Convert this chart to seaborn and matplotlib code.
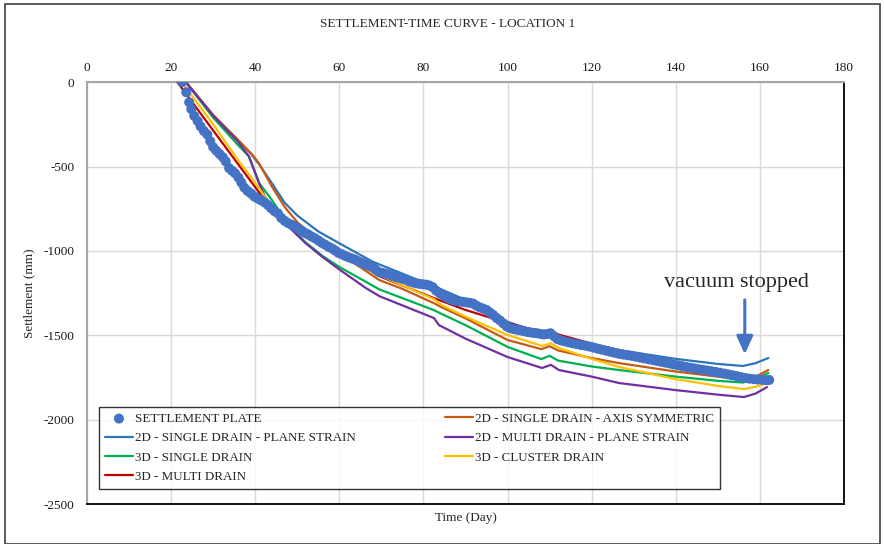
import numpy as np
import pandas as pd
import matplotlib
matplotlib.use("Agg")
import matplotlib.pyplot as plt
import seaborn as sns
from matplotlib.patches import Rectangle

# settlement plate readings (day, mm)
plate_day = [22.6, 23.6, 24.3, 24.8, 25.5, 26.3, 27.0, 27.8, 28.6, 29.3, 30.0, 30.7, 31.5, 32.3, 33.0,
             33.8, 34.5, 35.2, 36.0, 36.7, 37.4, 38.2, 39.0, 39.8, 40.6, 41.4, 42.2, 43.0, 43.8, 44.6,
             45.4, 46.2, 47.0, 47.8, 48.6, 49.4, 50.2, 51.0, 51.8, 52.6, 53.4, 54.2, 55.0, 55.8, 56.6,
             57.4, 58.2, 59.0, 59.8, 60.6, 61.4, 62.2, 63.0, 63.8, 64.6, 65.4, 66.2, 67.0, 67.8, 68.6,
             69.4, 70.2, 71.0, 71.8, 72.6, 73.4, 74.2, 75.0, 75.8, 76.6, 77.4, 78.2, 79.0, 79.8, 80.6,
             81.4, 82.2, 83.0, 83.8, 84.6, 85.4, 86.2, 87.0, 87.8, 88.6, 89.4, 90.2, 91.0, 91.8, 92.6,
             93.4, 94.2, 95.0, 95.8, 96.6, 97.4, 98.2, 99.0, 99.8, 100.6, 101.4, 102.2, 103.0, 103.8,
             104.6, 105.4, 106.2, 107.0, 107.8, 108.6, 109.4, 110.2, 111.0, 111.8, 112.6, 113.5, 114.5,
             115.5, 116.5, 117.5, 118.5, 119.5, 120.5, 121.5, 122.5, 123.5, 124.5, 125.5, 126.5, 127.5,
             128.5, 129.5, 130.5, 131.5, 132.5, 133.5, 134.5, 135.5, 136.5, 137.5, 138.5, 139.5, 140.5,
             141.5, 142.5, 143.5, 144.5, 145.5, 146.5, 147.5, 148.5, 149.5, 150.5, 151.5, 152.5, 153.5,
             154.5, 155.5, 156.5, 157.5, 158.5, 159.5, 160.5, 161.5, 162.2]
plate_mm = [0, -60, -120, -160, -200, -230, -262, -290, -310, -350, -385, -405, -425, -445, -470,
            -510, -525, -540, -565, -595, -625, -645, -660, -678, -690, -700, -712, -728, -748, -765,
            -778, -805, -822, -835, -845, -855, -868, -880, -893, -903, -915, -925, -938, -952, -963,
            -975, -985, -998, -1012, -1020, -1030, -1038, -1045, -1052, -1062, -1070, -1080, -1088, -1096, -1110,
            -1125, -1130, -1135, -1140, -1148, -1155, -1160, -1165, -1170, -1180, -1186, -1192, -1195, -1198, -1200,
            -1205, -1215, -1235, -1250, -1262, -1275, -1285, -1292, -1297, -1300, -1302, -1305, -1308, -1312, -1325,
            -1335, -1342, -1350, -1365, -1380, -1398, -1412, -1430, -1448, -1458, -1463, -1467, -1470, -1475,
            -1480, -1483, -1486, -1488, -1492, -1495, -1493, -1488, -1505, -1522, -1530, -1536, -1542,
            -1548, -1553, -1558, -1562, -1567, -1573, -1580, -1586, -1592, -1598, -1604, -1610, -1614,
            -1618, -1622, -1627, -1632, -1637, -1642, -1647, -1652, -1657, -1662, -1667, -1673, -1678,
            -1683, -1688, -1692, -1697, -1701, -1705, -1709, -1713, -1717, -1722, -1727, -1732, -1737,
            -1742, -1748, -1753, -1757, -1760, -1762, -1764, -1766, -1765]

ps2d_day = [23.5, 30, 36, 39, 41, 44, 47, 50, 55, 60, 68, 75, 83, 90, 100, 108, 110, 112, 120, 127, 140, 150,
            156, 159, 162]
ps2d_mm = [0, -195, -345, -425, -490, -600, -715, -790, -885, -955, -1065, -1135, -1215, -1290, -1420, -1490,
           -1478, -1505, -1550, -1590, -1640, -1670, -1682, -1665, -1635]

ax2d_day = [23.5, 30, 36, 39.5, 41, 44, 47, 50, 55, 60, 69.5, 75, 82.5, 84, 90, 100, 108, 110, 112, 120,
            126.5, 140, 150, 156, 159, 162]
ax2d_mm = [0, -195, -345, -435, -485, -620, -740, -830, -935, -1013, -1173, -1225, -1310, -1330, -1400, -1528,
           -1582, -1565, -1590, -1635, -1665, -1715, -1745, -1765, -1745, -1706]

multi2d_day = [23.5, 30, 36, 38.5, 40.9, 42.5, 45, 48, 52, 56, 60, 66.3, 69.5, 82.5, 83.7, 90, 100, 108.2,
               110.3, 112.2, 120, 126.5, 140, 150, 156.2, 159, 161.7]
multi2d_mm = [0, -200, -355, -440, -600, -690, -790, -858, -955, -1036, -1110, -1220, -1268, -1398, -1440,
              -1520, -1629, -1694, -1675, -1706, -1745, -1783, -1825, -1852, -1866, -1845, -1807]

single3d_day = [23.5, 30, 36, 38.5, 41, 44, 48, 52, 56, 60, 69.5, 82.5, 84, 90, 100, 108, 110, 112, 120,
                126.5, 140, 150, 156, 159, 162]
single3d_mm = [0, -210, -375, -440, -600, -700, -850, -950, -1030, -1095, -1228, -1351, -1370, -1440, -1569,
               -1641, -1622, -1650, -1685, -1706, -1745, -1770, -1780, -1760, -1723]

cluster3d_day = [22.5, 30, 36, 40.9, 44, 48, 52, 56, 60, 69.5, 82.5, 84.3, 90, 100, 108.2, 110.3, 112.2, 120,
                 126.5, 140, 150, 156.2, 159, 161.7]
cluster3d_mm = [0, -250, -465, -628, -740, -840, -910, -970, -1020, -1143, -1286, -1321, -1390, -1498, -1563,
                -1548, -1575, -1640, -1688, -1760, -1800, -1819, -1805, -1783]

multi3d_day = [21.5, 41.4, 44, 48, 52, 60, 69.5, 82.5, 90, 100, 108.2, 110, 112, 120, 130, 140, 150, 156, 162]
multi3d_mm = [0, -670, -760, -850, -900, -1000, -1150, -1280, -1350, -1427, -1480, -1478, -1495, -1550, -1610,
              -1665, -1715, -1745, -1765]

x_ticks = [0, 20, 40, 60, 80, 100, 120, 140, 160, 180]
y_ticks = [0, -500, -1000, -1500, -2000, -2500]

SERIF = ["Liberation Serif", "DejaVu Serif"]


def main():
    sns.set_style("white")
    plt.rcParams["font.family"] = SERIF
    plt.rcParams["axes.unicode_minus"] = False

    fig = plt.figure(figsize=(8.84, 5.44), dpi=100)
    ax = fig.add_axes([0.0984, 0.0735, 0.8564, 0.7755])

    ax.grid(True, color="#d9d9d9", linewidth=1.0)
    ax.set_axisbelow(True)

    lines = [
        (ps2d_day, ps2d_mm, "#2E75B6", "2D - SINGLE DRAIN - PLANE STRAIN"),
        (single3d_day, single3d_mm, "#00B050", "3D - SINGLE DRAIN"),
        (multi3d_day, multi3d_mm, "#C00000", "3D - MULTI DRAIN"),
        (ax2d_day, ax2d_mm, "#C55A11", "2D - SINGLE DRAIN - AXIS SYMMETRIC"),
        (multi2d_day, multi2d_mm, "#7030A0", "2D - MULTI DRAIN - PLANE STRAIN"),
        (cluster3d_day, cluster3d_mm, "#FFC000", "3D - CLUSTER DRAIN"),
    ]
    for xs, ys, col, lab in lines:
        sns.lineplot(x=xs, y=ys, color=col, linewidth=1.6, sort=False, estimator=None,
                     label=lab, ax=ax, zorder=3)

    sns.scatterplot(x=plate_day, y=plate_mm, color="#4472C4", s=52, edgecolor="none",
                    label="SETTLEMENT PLATE", ax=ax, zorder=4)

    ax.set_xlim(0, 180)
    ax.set_ylim(-2500, 0)
    ax.set_xticks(x_ticks)
    ax.set_yticks(y_ticks)
    ax.xaxis.tick_top()
    ax.tick_params(axis="both", length=0, labelsize=9.5, pad=6, colors="#1a1a1a")
    ax.tick_params(axis="y", pad=9)

    for side in ["top", "left"]:
        ax.spines[side].set_color("#a6a6a6")
        ax.spines[side].set_linewidth(1.5)
    for side in ["bottom", "right"]:
        ax.spines[side].set_color("black")
        ax.spines[side].set_linewidth(1.3)

    ax.set_xlabel("Time (Day)", fontsize=9.5, labelpad=6)
    ax.set_ylabel("Settlement (mm)", fontsize=9.5, labelpad=6)
    fig.text(0.506, 0.955, "SETTLEMENT-TIME CURVE - LOCATION 1", ha="center", va="center", fontsize=9.5)

    # legend order: column-major for two columns
    handles, labels = ax.get_legend_handles_labels()
    order = ["SETTLEMENT PLATE", "2D - SINGLE DRAIN - PLANE STRAIN", "3D - SINGLE DRAIN", "3D - MULTI DRAIN",
             "2D - SINGLE DRAIN - AXIS SYMMETRIC", "2D - MULTI DRAIN - PLANE STRAIN", "3D - CLUSTER DRAIN"]
    hmap = dict(zip(labels, handles))
    leg = ax.legend([hmap[k] for k in order], order, ncol=2, loc="lower left",
                    bbox_to_anchor=(0.0155, 0.036, 0.82, 0.19), mode="expand", borderaxespad=0,
                    fontsize=9.4, frameon=True, fancybox=False, edgecolor="black",
                    handlelength=2.2, handletextpad=0.1, borderpad=0.45, labelspacing=0.55,
                    columnspacing=1.0)
    leg.get_frame().set_linewidth(1.0)

    ax.annotate("", xy=(156.4, -1629), xytext=(156.4, -1274),
                arrowprops=dict(arrowstyle="-|>,head_width=0.5,head_length=1.1", color="#4472C4", lw=2.2))
    ax.text(154.3, -1190, "vacuum stopped", ha="center", va="center", fontsize=16)

    fig.patches.append(Rectangle((0.006, 0.0), 0.989, 0.992, transform=fig.transFigure, fill=False,
                                 edgecolor="#404040", linewidth=1.2))

    fig.savefig("out.png", dpi=100)
    plt.close(fig)


if __name__ == "__main__":
    main()
